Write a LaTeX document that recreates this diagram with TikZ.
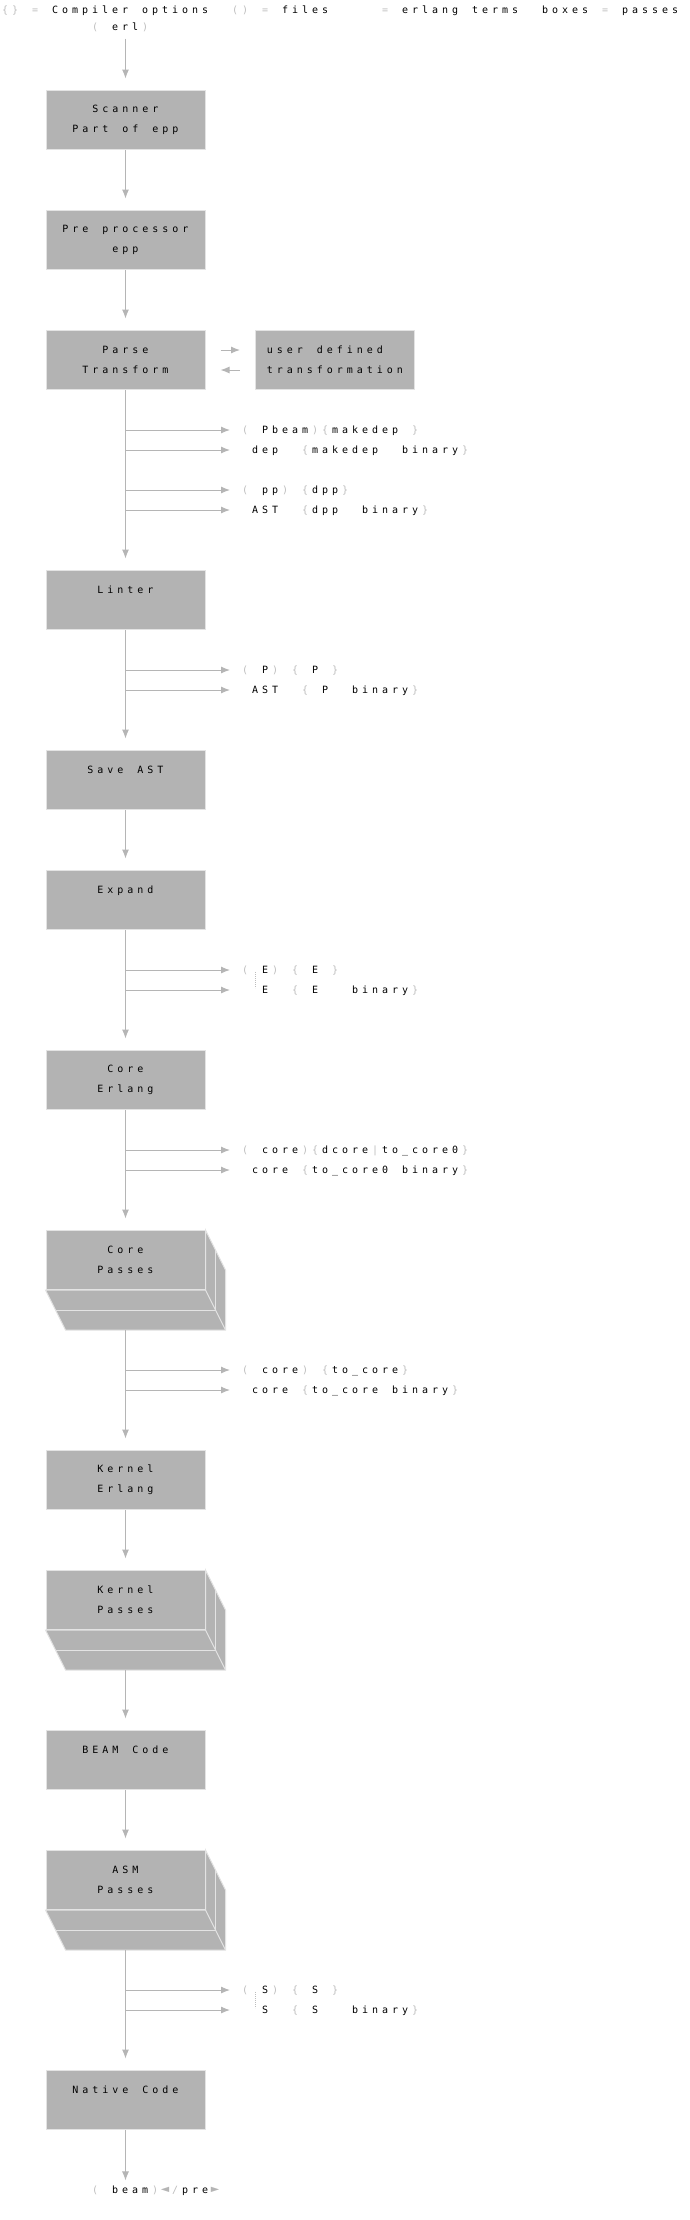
\documentclass[tikz,border=0pt]{standalone}
\usepackage{fontspec}
\setmainfont{DejaVu Sans Mono}
\usetikzlibrary{arrows.meta}
\definecolor{boxgray}{HTML}{B3B3B3}
\definecolor{rim}{HTML}{E3E3E3}
\definecolor{wire}{HTML}{B5B5B5}
\definecolor{faintc}{HTML}{BDBDBD}
\newcommand{\faint}[1]{\textcolor{faintc}{#1}}
\newcommand{\bigtip}[1]{\textcolor{wire}{\fontsize{14pt}{14pt}\selectfont #1}}
\ExplSyntaxOn
\NewDocumentCommand{\ttcells}{m}{\tl_map_inline:nn {#1} {\makebox[10pt][c]{##1}}}
\ExplSyntaxOff
\begin{document}
\begin{tikzpicture}[x=1pt, y=-1pt, >={Latex[length=9pt, width=7pt]},
    passbox/.style={fill=boxgray, draw=rim, line width=1pt, minimum width=159pt, minimum height=59pt, inner sep=0pt, align=center, font=\fontsize{10pt}{20pt}\selectfont},
    tag/.style={anchor=west, inner sep=0pt, text height=9pt, text depth=1.7pt},
    term/.style={tag, inner xsep=10pt},
    flow/.style={->, draw=wire, line width=1pt}]
\useasboundingbox (0,0) rectangle (690,2220);

\node[tag] (legend) at (0,10) {\ttcells{{\faint\{}{\faint\}}~{\faint=}~Compiler~options~~{\faint(}{\faint)}~{\faint=}~files~~~~~{\faint=}~erlang~terms~~boxes~{\faint=}~passes}};
\node[tag] (erl) at (90,27) {\ttcells{{\faint(}~erl{\faint)}}};

\node[passbox] (scan) at (125.5,120) {\ttcells{Scanner}\\\ttcells{Part~of~epp}};
\node[passbox] (pre) at (125.5,240) {\ttcells{Pre~processor}\\\ttcells{epp}};
\node[passbox] (pt) at (125.5,360) {\ttcells{Parse}\\\ttcells{Transform}};
\node[passbox, align=left] (udt) at (335,360) {\ttcells{user~defined}\\\ttcells{transformation}};
\node[passbox] (lint) at (125.5,600) {\ttcells{Linter}\\\mbox{}};
\node[passbox] (save) at (125.5,780) {\ttcells{Save~AST}\\\mbox{}};
\node[passbox] (exp) at (125.5,900) {\ttcells{Expand}\\\mbox{}};
\node[passbox] (ce) at (125.5,1080) {\ttcells{Core}\\\ttcells{Erlang}};
\node[passbox] (cpass) at (125.5,1260) {\ttcells{Core}\\\ttcells{Passes}};
\node[passbox] (ke) at (125.5,1480) {\ttcells{Kernel}\\\ttcells{Erlang}};
\node[passbox] (kpass) at (125.5,1600) {\ttcells{Kernel}\\\ttcells{Passes}};
\node[passbox] (bc) at (125.5,1760) {\ttcells{BEAM~Code}\\\mbox{}};
\node[passbox] (apass) at (125.5,1880) {\ttcells{ASM}\\\ttcells{Passes}};
\node[passbox] (nat) at (125.5,2100) {\ttcells{Native~Code}\\\mbox{}};

% outputs on the side
\node[term] (pb1) at (230,430) {\ttcells{{\faint(}~Pbeam{\faint)}{\faint\{}makedep~{\faint\}}}};
\node[term] (pb2) at (230,450) {\ttcells{~dep~~{\faint\{}makedep~~binary{\faint\}}}};
\node[term] (pp1) at (230,490) {\ttcells{{\faint(}~pp{\faint)}~{\faint\{}dpp{\faint\}}}};
\node[term] (pp2) at (230,510) {\ttcells{~AST~~{\faint\{}dpp~~binary{\faint\}}}};
\node[term] (li1) at (230,670) {\ttcells{{\faint(}~P{\faint)}~{\faint\{}~P~{\faint\}}}};
\node[term] (li2) at (230,690) {\ttcells{~AST~~{\faint\{}~P~~binary{\faint\}}}};
\node[term] (ex1) at (230,970) {\ttcells{{\faint(}~E{\faint)}~{\faint\{}~E~{\faint\}}}};
\node[term] (ex2) at (230,990) {\ttcells{~~E~~{\faint\{}~E~~~binary{\faint\}}}};
\node[term] (co1) at (230,1150) {\ttcells{{\faint(}~core{\faint)}{\faint\{}dcore{\faint|}to\_core0{\faint\}}}};
\node[term] (co2) at (230,1170) {\ttcells{~core~{\faint\{}to\_core0~binary{\faint\}}}};
\node[term] (tc1) at (230,1370) {\ttcells{{\faint(}~core{\faint)}~{\faint\{}to\_core{\faint\}}}};
\node[term] (tc2) at (230,1390) {\ttcells{~core~{\faint\{}to\_core~binary{\faint\}}}};
\node[term] (as1) at (230,1990) {\ttcells{{\faint(}~S{\faint)}~{\faint\{}~S~{\faint\}}}};
\node[term] (as2) at (230,2010) {\ttcells{~~S~~{\faint\{}~S~~~binary{\faint\}}}};
\node[tag] (btag) at (90,2190) {\ttcells{{\faint(}~beam{\faint)}{\bigtip◄}{\faint/}pre{\bigtip►}}};

% stacked passes
\foreach \p in {cpass,kpass,apass}
{
    \filldraw[fill=boxgray, draw=rim, line width=1pt] (\p.north east) -- ++(20,40) -- ++(0,60) -- ++(-160,0) -- (\p.south west) -- (\p.south east) -- cycle;
    \draw[rim, line width=1pt] (\p.south east) -- ++(20,40);
    \draw[rim, line width=1pt] ([shift={(9.5,20)}]\p.south west) -- ([shift={(10,20)}]\p.south east) -- ([shift={(10,20)}]\p.north east);
    \coordinate (\p-b) at ([yshift=-40pt]\p.south);
}

\draw[flow, shorten <=6pt, shorten >=11.5pt] (scan |- erl.south) -- (scan);
\foreach \a/\b in {scan/pre, pre/pt, pt/lint, lint/save, save/exp, exp/ce, ce/cpass, cpass-b/ke, ke/kpass, kpass-b/bc, bc/apass, apass-b/nat}
{
    \draw[flow, shorten >=11.5pt] (\a) -- (\b);
}
\draw[flow, shorten >=4pt] (nat) -- (nat |- btag.north);

\foreach \s/\t in {pt/pb1, pt/pb2, pt/pp1, pt/pp2, lint/li1, lint/li2, exp/ex1, exp/ex2, ce/co1, ce/co2, cpass/tc1, cpass/tc2, apass/as1, apass/as2}
{
    \draw[flow] (\s |- \t) -- (\t.west);
}
\foreach \u/\v in {ex1/ex2, as1/as2}
{
    \draw[faintc, line width=0.7pt, dash pattern=on 0.7pt off 1.3pt] ([xshift=25pt, yshift=-2pt]\u.west) -- ([xshift=25pt, yshift=2pt]\v.west);
}

\draw[flow, shorten <=15pt, shorten >=15pt] ([yshift=10pt]pt.east) -- ([yshift=10pt]udt.west);
\draw[flow, shorten <=15pt, shorten >=15pt] ([yshift=-10pt]udt.west) -- ([yshift=-10pt]pt.east);

\end{tikzpicture}
\end{document}
